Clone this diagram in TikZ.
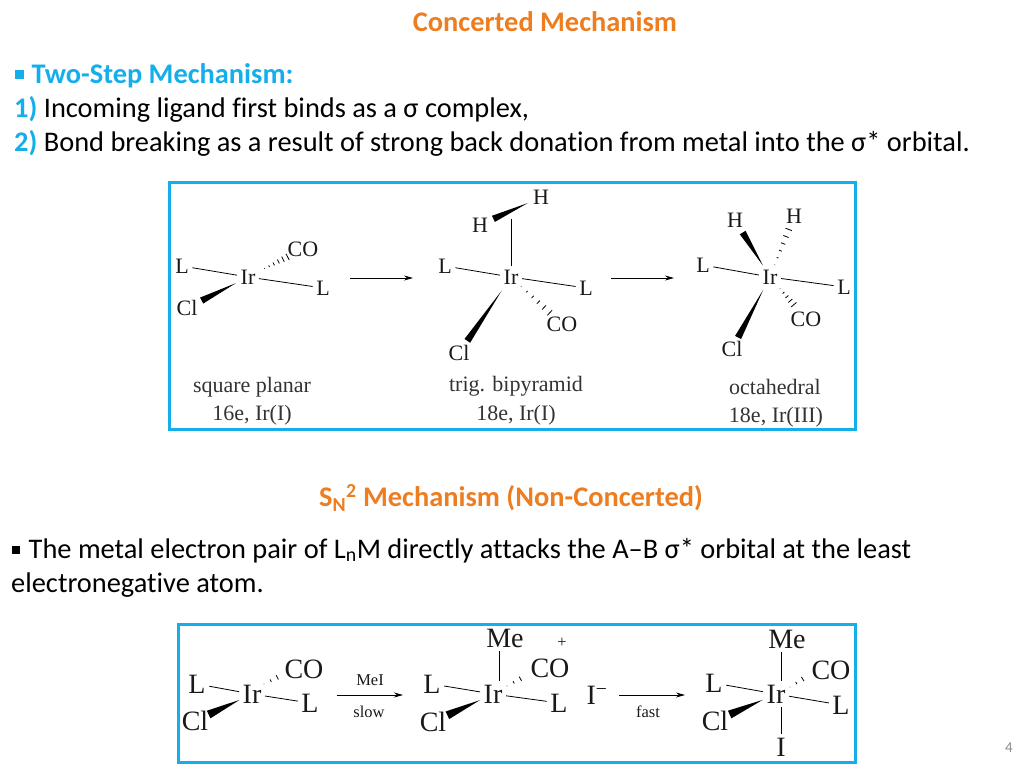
\documentclass[tikz,border=0pt]{standalone}
\usepackage{fontspec}
\setmainfont{Carlito}[Ligatures=NoCommon]
\newfontfamily\irfont{Liberation Serif}
\usetikzlibrary{calc,arrows.meta}
\definecolor{headorange}{HTML}{ED7D1F}
\definecolor{headblue}{HTML}{14AEEA}
\newcommand{\wedgebond}[5][3.4pt]{
	\path ($(#2)!#4!(#3)$) coordinate (wtip);
	\path ($(#2)!#5!(#3)$) coordinate (wend);
	\fill[black] (wtip) -- ($(wend)!#1!90:(wtip)$) -- ($(wend)!#1!-90:(wtip)$) -- cycle;
}
\newcommand{\hashbond}[5][5]{
	\foreach \hstep in {0,1,...,#1}{
		\pgfmathsetmacro\hfrac{#4+\hstep*(#5-#4)/#1}
		\pgfmathsetmacro\hhalf{0.3+3.2*\hstep/#1}
		\path ($(#2)!\hfrac!(#3)$) coordinate (hmid);
		\draw[hashline] ($(hmid)!\hhalf pt!90:(#3)$) -- ($(hmid)!\hhalf pt!-90:(#3)$);
	}
}
\tikzset{
	slidetext/.style={anchor=base west,inner sep=0pt,font=\fontsize{28.4}{30}\selectfont},
	headtext/.style={inner sep=0pt,text=headorange,font=\fontsize{28.4}{30}\selectfont\bfseries},
	atom/.style={inner sep=3.5pt,text=black!90,font=\irfont\fontsize{22}{22}\selectfont},
	bigatom/.style={inner sep=3.5pt,text=black!90,font=\irfont\fontsize{28}{28}\selectfont},
	cond/.style={inner sep=0pt,text=black!90,font=\irfont\fontsize{16.5}{17}\selectfont},
	caption/.style={inner sep=0pt,text=black!80,font=\irfont\fontsize{22}{22}\selectfont},
	bond/.style={line width=0.8pt,black},
	hashline/.style={line width=0.8pt,black},
	rxnarrow/.style={line width=0.8pt,-{Stealth[length=9pt,width=5pt]}},
	panel/.style={line width=3pt,headblue}
}
\begin{document}
\begin{tikzpicture}[x=1pt,y=-1pt]
	\useasboundingbox (0,0) rectangle (1024,768);
	\node[headtext] (title) at (545,22) {Concerted Mechanism};
	\node[slidetext,text=headblue,font=\fontsize{28.4}{30}\selectfont\bfseries] (stephead) at (15,83) {\rule[4.5pt]{8.5pt}{8.5pt}\hspace{8pt}Two-Step Mechanism:};
	\node[slidetext] (stepone) at (14,117) {\textcolor{headblue}{\textbf{1)}} Incoming ligand first binds as a σ complex,};
	\node[slidetext] (steptwo) at (14,151) {\textcolor{headblue}{\textbf{2)}} Bond breaking as a result of strong back donation from metal into the σ* orbital.};
	\draw[panel] (169,182) rectangle (855,429);
	\node[atom] (irA) at (248,277) {Ir};
	\node[atom] (lA) at (182,266) {L};
	\node[atom] (lAr) at (323,288) {L};
	\node[atom] (clA) at (187,308) {Cl};
	\node[atom] (coA) at (303,249) {CO};
	\draw[bond] (lA) -- (irA);
	\draw[bond] (irA) -- (lAr);
	\wedgebond{irA}{clA}{0.2}{0.76}
	\hashbond{irA}{coA}{0.3}{0.72}
	\coordinate (arrA) at (350,278);
	\coordinate (arrAe) at (413,278);
	\draw[rxnarrow] (arrA) -- (arrAe);
	\node[atom] (irB) at (511,277) {Ir};
	\node[atom] (lB) at (445,266) {L};
	\node[atom] (lBr) at (586,288) {L};
	\node[atom] (clB) at (459,353) {Cl};
	\node[atom] (coB) at (562,324) {CO};
	\node[atom] (hB) at (480,225) {H};
	\node[atom] (hBt) at (541,197) {H};
	\coordinate (topB) at (511,219);
	\draw[bond] (lB) -- (irB);
	\draw[bond] (irB) -- (lBr);
	\draw[bond] (irB) -- (topB);
	\wedgebond{irB}{clB}{0.18}{0.84}
	\hashbond{irB}{coB}{0.2}{0.76}
	\wedgebond{hBt}{hB}{0.22}{0.78}
	\coordinate (arrB) at (611,278);
	\coordinate (arrBe) at (674,278);
	\draw[rxnarrow] (arrB) -- (arrBe);
	\node[atom] (irC) at (770,277) {Ir};
	\node[atom] (lC) at (703,265) {L};
	\node[atom] (lCr) at (844,287) {L};
	\node[atom] (clC) at (732,349) {Cl};
	\node[atom] (coC) at (806,319) {CO};
	\node[atom] (hC) at (735,220) {H};
	\node[atom] (hCr) at (794,216) {H};
	\draw[bond] (lC) -- (irC);
	\draw[bond] (irC) -- (lCr);
	\wedgebond{irC}{clC}{0.18}{0.84}
	\wedgebond{irC}{hC}{0.2}{0.78}
	\hashbond{irC}{hCr}{0.2}{0.78}
	\hashbond[4]{irC}{coC}{0.28}{0.66}
	\node[caption] (capA) at (252,387) {square planar};
	\node[caption] (capAb) at (252,415) {16e, Ir(I)};
	\node[caption] (capB) at (516,386) {trig. bipyramid};
	\node[caption] (capBb) at (516,415) {18e, Ir(I)};
	\node[caption] (capC) at (775,387) {octahedral};
	\node[caption] (capCb) at (776,417) {18e, Ir(III)};
	\node[headtext] (sntitle) at (511,498) {S\textsubscript{N}\textsuperscript{2} Mechanism (Non-Concerted)};
	\node[slidetext] (snone) at (12,558) {\rule[4.5pt]{7.5pt}{7.5pt}\hspace{9pt}The metal electron pair of L\textsubscript{n}M directly attacks the A–B σ* orbital at the least};
	\node[slidetext] (sntwo) at (11,592) {electronegative atom.};
	\draw[panel] (178,624) rectangle (855,762);
	\node[bigatom] (irD) at (252,694) {Ir};
	\node[bigatom] (lD) at (197,684) {L};
	\node[bigatom] (lDr) at (310,703) {L};
	\node[bigatom] (clD) at (195,721) {Cl};
	\node[bigatom] (coD) at (304,669) {CO};
	\coordinate (hashD) at (264,684);
	\coordinate (hashDe) at (284,674);
	\draw[bond] (lD) -- (irD);
	\draw[bond] (irD) -- (lDr);
	\wedgebond[4.2pt]{irD}{clD}{0.22}{0.76}
	\hashbond[3]{hashD}{hashDe}{0}{1}
	\coordinate (arrD) at (337,695);
	\coordinate (arrDe) at (403,695);
	\draw[rxnarrow] (arrD) -- (arrDe);
	\node[cond] (meiD) at (370,680) {MeI};
	\node[cond] (slowD) at (369,712) {slow};
	\node[bigatom] (irE) at (493,694) {Ir};
	\node[bigatom] (lE) at (432,684) {L};
	\node[bigatom] (lEr) at (559,703) {L};
	\node[bigatom] (clE) at (433,722) {Cl};
	\node[bigatom] (coE) at (550,668) {CO};
	\node[bigatom] (meE) at (505,638) {Me};
	\node[cond] (plusE) at (562,643) {+};
	\node[bigatom] (iE) at (597,695) {I\textsuperscript{−}};
	\coordinate (hashE) at (507,686);
	\coordinate (hashEe) at (527,675);
	\draw[bond] (lE) -- (irE);
	\draw[bond] (irE) -- (lEr);
	\draw[bond] ($(irE.north)+(6,0)$) -- ($(meE.south)+(-6,0)$);
	\wedgebond[4.2pt]{irE}{clE}{0.22}{0.76}
	\hashbond[3]{hashE}{hashEe}{0}{1}
	\coordinate (arrE) at (619,695);
	\coordinate (arrEe) at (685,695);
	\draw[rxnarrow] (arrE) -- (arrEe);
	\node[cond] (fastE) at (648,712) {fast};
	\node[bigatom] (irF) at (776,694) {Ir};
	\node[bigatom] (lF) at (714,683) {L};
	\node[bigatom] (lFr) at (841,705) {L};
	\node[bigatom] (clF) at (715,721) {Cl};
	\node[bigatom] (coF) at (831,670) {CO};
	\node[bigatom] (meF) at (787,639) {Me};
	\node[bigatom] (iF) at (781,747) {I};
	\coordinate (hashF) at (790,687);
	\coordinate (hashFe) at (809,675);
	\draw[bond] (lF) -- (irF);
	\draw[bond] (irF) -- (lFr);
	\draw[bond] ($(irF.north)+(5,0)$) -- ($(meF.south)+(-6,0)$);
	\draw[bond] ($(irF.south)+(5,0)$) -- (iF);
	\wedgebond[4.2pt]{irF}{clF}{0.22}{0.76}
	\hashbond[3]{hashF}{hashFe}{0}{1}
	\node[inner sep=0pt,text=black!45,font=\fontsize{15}{15}\selectfont] (pagenum) at (1009,748) {4};
\end{tikzpicture}
\end{document}
